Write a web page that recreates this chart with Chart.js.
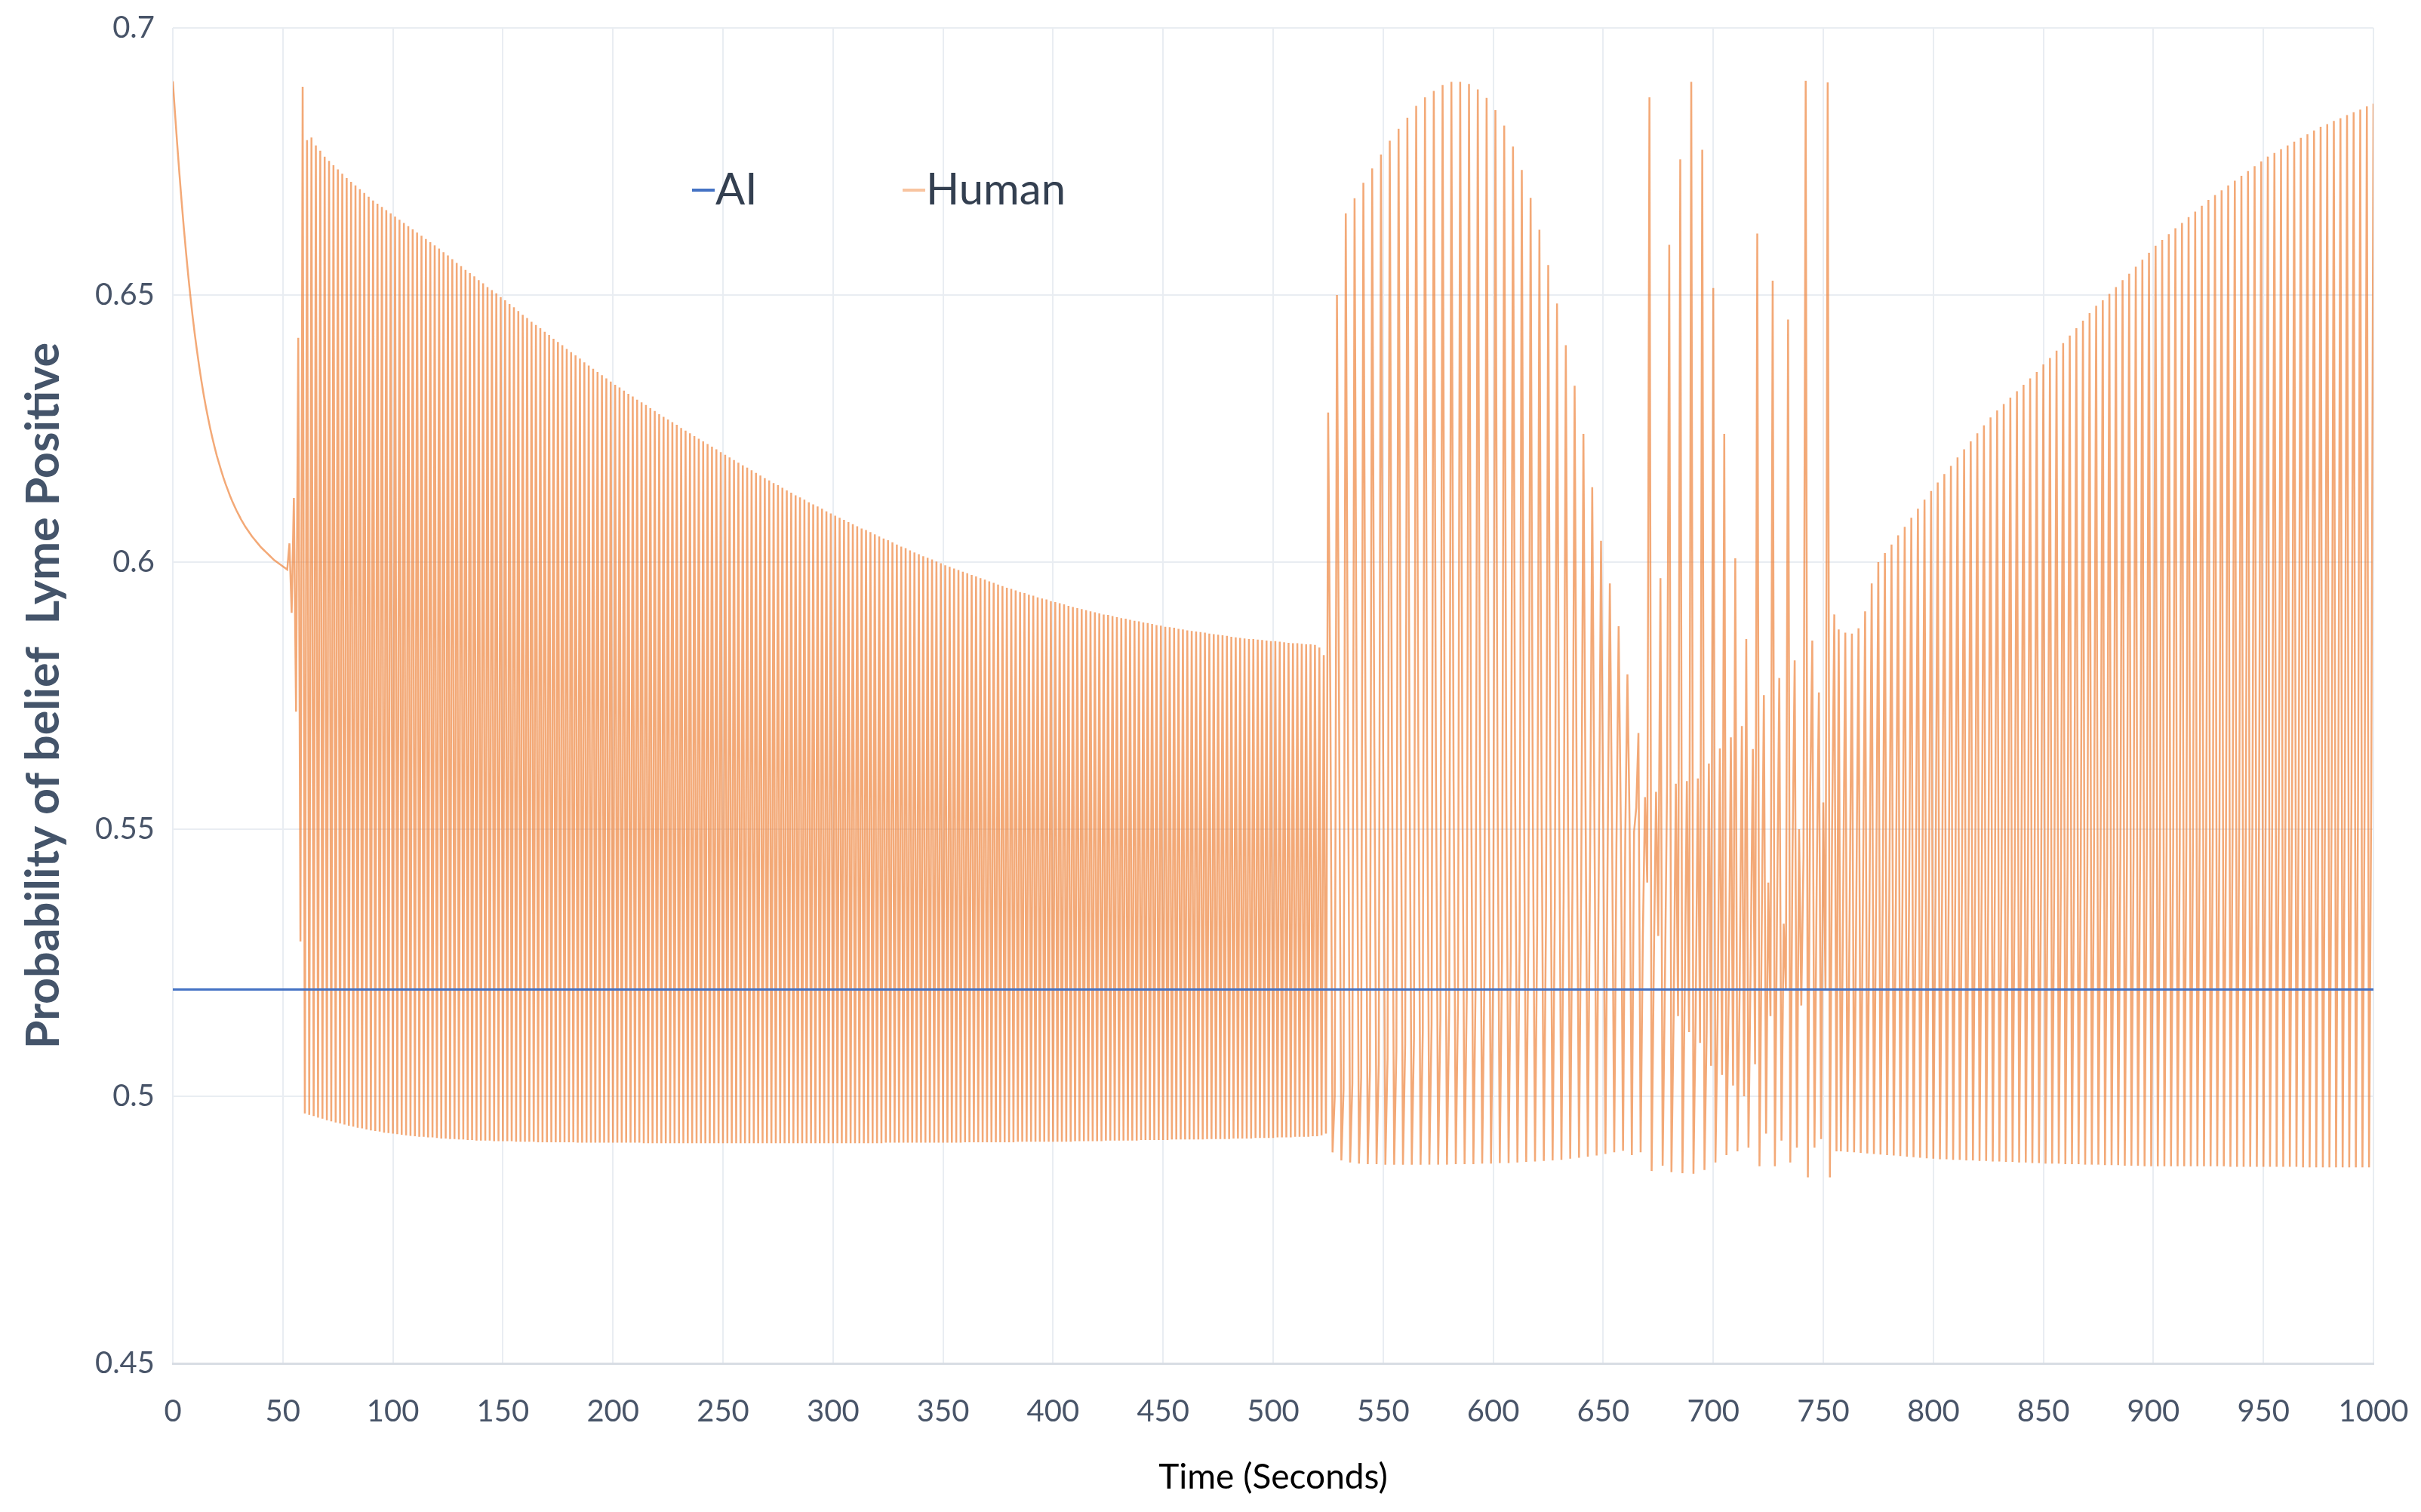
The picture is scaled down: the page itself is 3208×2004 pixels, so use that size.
<!DOCTYPE html>
<html>
<head>
<meta charset="utf-8">
<title>Probability of belief Lyme Positive</title>
<script src="https://cdn.jsdelivr.net/npm/chart.js@4.4.1/dist/chart.umd.min.js"></script>
<style>
    html, body { margin: 0; padding: 0; background: #ffffff; }
    canvas { display: block; }
</style>
</head>
<body>
<canvas id="beliefChart" width="3208" height="2004"></canvas>
<script>
// axis ticks
const xTicks = [0, 50, 100, 150, 200, 250, 300, 350, 400, 450, 500, 550, 600, 650, 700, 750, 800, 850, 900, 950, 1000];
const xTickLabels = ['0', '50', '100', '150', '200', '250', '300', '350', '400', '450', '500', '550', '600', '650', '700', '750', '800', '850', '900', '950', '1000'];
const yTicks = [0.45, 0.5, 0.55, 0.6, 0.65, 0.7];
const yTickLabels = ['0.45', '0.5', '0.55', '0.6', '0.65', '0.7'];

// AI series (flat)
const aiTimes = [0, 1000];
const aiValues = [0.52, 0.52];

// Human series, one sample per second in pieces
// t = 0..52
const humanDecay = [
    0.6900, 0.6840, 0.6782, 0.6727, 0.6675, 0.6626, 0.6580, 0.6537, 0.6497, 0.6460,
    0.6426, 0.6395, 0.6366, 0.6339, 0.6314, 0.6291, 0.6270, 0.6250, 0.6232, 0.6215,
    0.6199, 0.6185, 0.6171, 0.6158, 0.6146, 0.6135, 0.6124, 0.6114, 0.6105, 0.6096,
    0.6088, 0.6080, 0.6073, 0.6066, 0.6060, 0.6054, 0.6048, 0.6043, 0.6038, 0.6033,
    0.6028, 0.6024, 0.6020, 0.6016, 0.6012, 0.6008, 0.6004, 0.6001, 0.5998, 0.5995,
    0.5992, 0.5989, 0.5986
];
// t = 53..59
const humanOnset = [0.6035, 0.5905, 0.6120, 0.5720, 0.6420, 0.5290, 0.6890];
// t = 61, 63, ... 523 (peaks)
const humanHighA = [
    0.6790, 0.6795, 0.6780, 0.6770, 0.6759,
    0.6751, 0.6743, 0.6735, 0.6727, 0.6719,
    0.6712, 0.6705, 0.6698, 0.6691, 0.6684,
    0.6677, 0.6671, 0.6665, 0.6659, 0.6653,
    0.6647, 0.6641, 0.6635, 0.6629, 0.6623,
    0.6617, 0.6611, 0.6605, 0.6599, 0.6593,
    0.6587, 0.6580, 0.6574, 0.6567, 0.6560,
    0.6554, 0.6547, 0.6541, 0.6535, 0.6528,
    0.6522, 0.6515, 0.6509, 0.6503, 0.6496,
    0.6490, 0.6483, 0.6477, 0.6470, 0.6463,
    0.6457, 0.6450, 0.6444, 0.6438, 0.6431,
    0.6425, 0.6418, 0.6412, 0.6406, 0.6399,
    0.6393, 0.6387, 0.6381, 0.6374, 0.6368,
    0.6362, 0.6356, 0.6350, 0.6344, 0.6338,
    0.6332, 0.6327, 0.6321, 0.6315, 0.6310,
    0.6304, 0.6299, 0.6294, 0.6288, 0.6283,
    0.6277, 0.6272, 0.6267, 0.6262, 0.6257,
    0.6251, 0.6246, 0.6241, 0.6236, 0.6231,
    0.6226, 0.6221, 0.6216, 0.6211, 0.6206,
    0.6201, 0.6196, 0.6191, 0.6186, 0.6181,
    0.6177, 0.6172, 0.6167, 0.6162, 0.6157,
    0.6153, 0.6148, 0.6144, 0.6139, 0.6134,
    0.6130, 0.6125, 0.6121, 0.6117, 0.6112,
    0.6108, 0.6104, 0.6100, 0.6095, 0.6091,
    0.6087, 0.6083, 0.6079, 0.6075, 0.6071,
    0.6067, 0.6063, 0.6060, 0.6056, 0.6052,
    0.6048, 0.6044, 0.6041, 0.6037, 0.6033,
    0.6029, 0.6026, 0.6022, 0.6018, 0.6015,
    0.6011, 0.6008, 0.6005, 0.6001, 0.5998,
    0.5994, 0.5991, 0.5988, 0.5985, 0.5982,
    0.5979, 0.5976, 0.5973, 0.5970, 0.5967,
    0.5964, 0.5961, 0.5958, 0.5955, 0.5952,
    0.5950, 0.5947, 0.5944, 0.5942, 0.5939,
    0.5937, 0.5934, 0.5932, 0.5930, 0.5927,
    0.5925, 0.5923, 0.5921, 0.5918, 0.5916,
    0.5914, 0.5912, 0.5910, 0.5908, 0.5906,
    0.5904, 0.5902, 0.5901, 0.5899, 0.5897,
    0.5895, 0.5894, 0.5892, 0.5890, 0.5889,
    0.5887, 0.5886, 0.5884, 0.5882, 0.5881,
    0.5879, 0.5878, 0.5877, 0.5875, 0.5874,
    0.5872, 0.5871, 0.5870, 0.5869, 0.5868,
    0.5866, 0.5865, 0.5864, 0.5863, 0.5862,
    0.5860, 0.5859, 0.5858, 0.5857, 0.5856,
    0.5856, 0.5855, 0.5854, 0.5853, 0.5852,
    0.5852, 0.5851, 0.5850, 0.5849, 0.5848,
    0.5848, 0.5847, 0.5846, 0.5846, 0.5845,
    0.5840, 0.5826
];
// t = 60, 62, ... 524 (troughs)
const humanLowA = [
    0.4968, 0.4965, 0.4963, 0.4960, 0.4958,
    0.4955, 0.4953, 0.4951, 0.4949, 0.4947,
    0.4945, 0.4943, 0.4941, 0.4940, 0.4938,
    0.4936, 0.4935, 0.4934, 0.4932, 0.4931,
    0.4930, 0.4929, 0.4928, 0.4927, 0.4926,
    0.4925, 0.4924, 0.4924, 0.4923, 0.4923,
    0.4922, 0.4921, 0.4921, 0.4920, 0.4920,
    0.4919, 0.4919, 0.4918, 0.4918, 0.4917,
    0.4917, 0.4917, 0.4917, 0.4916, 0.4916,
    0.4916, 0.4916, 0.4916, 0.4915, 0.4915,
    0.4915, 0.4915, 0.4915, 0.4914, 0.4914,
    0.4914, 0.4914, 0.4914, 0.4914, 0.4914,
    0.4914, 0.4914, 0.4913, 0.4913, 0.4913,
    0.4913, 0.4913, 0.4913, 0.4913, 0.4913,
    0.4913, 0.4913, 0.4913, 0.4913, 0.4913,
    0.4913, 0.4913, 0.4912, 0.4912, 0.4912,
    0.4912, 0.4912, 0.4912, 0.4912, 0.4912,
    0.4912, 0.4912, 0.4912, 0.4912, 0.4912,
    0.4912, 0.4912, 0.4912, 0.4912, 0.4912,
    0.4912, 0.4912, 0.4912, 0.4912, 0.4912,
    0.4912, 0.4912, 0.4912, 0.4912, 0.4912,
    0.4912, 0.4912, 0.4912, 0.4912, 0.4912,
    0.4912, 0.4912, 0.4912, 0.4912, 0.4912,
    0.4912, 0.4912, 0.4912, 0.4912, 0.4912,
    0.4912, 0.4912, 0.4912, 0.4912, 0.4912,
    0.4912, 0.4912, 0.4912, 0.4912, 0.4912,
    0.4912, 0.4912, 0.4913, 0.4913, 0.4913,
    0.4913, 0.4913, 0.4913, 0.4913, 0.4913,
    0.4913, 0.4913, 0.4913, 0.4913, 0.4913,
    0.4913, 0.4913, 0.4913, 0.4913, 0.4913,
    0.4914, 0.4914, 0.4914, 0.4914, 0.4914,
    0.4914, 0.4914, 0.4914, 0.4914, 0.4914,
    0.4914, 0.4914, 0.4915, 0.4915, 0.4915,
    0.4915, 0.4915, 0.4915, 0.4915, 0.4915,
    0.4915, 0.4915, 0.4915, 0.4915, 0.4915,
    0.4916, 0.4916, 0.4916, 0.4916, 0.4916,
    0.4916, 0.4916, 0.4917, 0.4917, 0.4917,
    0.4917, 0.4917, 0.4917, 0.4917, 0.4917,
    0.4918, 0.4918, 0.4918, 0.4918, 0.4918,
    0.4918, 0.4918, 0.4919, 0.4919, 0.4919,
    0.4919, 0.4919, 0.4919, 0.4919, 0.4919,
    0.4920, 0.4920, 0.4920, 0.4920, 0.4920,
    0.4920, 0.4921, 0.4921, 0.4921, 0.4921,
    0.4921, 0.4922, 0.4922, 0.4922, 0.4922,
    0.4922, 0.4923, 0.4923, 0.4923, 0.4923,
    0.4924, 0.4924, 0.4924, 0.4924, 0.4925,
    0.4925, 0.4927, 0.4930
];
// t = 525..664, four samples per swing: spike top, inner top, spike bottom, inner bottom
const humanTopB = [
    0.6280, 0.6500, 0.6653, 0.6681, 0.6710, 0.6737, 0.6763, 0.6789, 0.6811, 0.6832,
    0.6854, 0.6870, 0.6882, 0.6893, 0.6899, 0.6899, 0.6895, 0.6885, 0.6869, 0.6846,
    0.6817, 0.6778, 0.6734, 0.6682, 0.6622, 0.6556, 0.6484, 0.6406, 0.6330, 0.6240,
    0.6140, 0.6040, 0.5960, 0.5880, 0.5790
];
const humanInnerTopB = [
    0.5740, 0.5685, 0.5672, 0.5665, 0.5658, 0.5651, 0.5644, 0.5637, 0.5630, 0.5623,
    0.5616, 0.5609, 0.5602, 0.5596, 0.5590, 0.5584, 0.5578, 0.5572, 0.5566, 0.5561,
    0.5556, 0.5551, 0.5546, 0.5542, 0.5538, 0.5534, 0.5530, 0.5526, 0.5522, 0.5519,
    0.5516, 0.5513, 0.5510, 0.5507, 0.5504
];
const humanLowB = [
    0.4895, 0.4880, 0.4876, 0.4874, 0.4873, 0.4873, 0.4872, 0.4872, 0.4872, 0.4872,
    0.4872, 0.4872, 0.4872, 0.4872, 0.4873, 0.4873, 0.4873, 0.4874, 0.4874, 0.4875,
    0.4875, 0.4876, 0.4877, 0.4878, 0.4879, 0.4880, 0.4881, 0.4883, 0.4885, 0.4887,
    0.4889, 0.4892, 0.4895, 0.4898, 0.4890
];
const humanInnerLowB = [
    0.5000, 0.5012, 0.5024, 0.5036, 0.5048, 0.5060, 0.5072, 0.5084, 0.5096, 0.5108,
    0.5120, 0.5133, 0.5146, 0.5160, 0.5174, 0.5189, 0.5204, 0.5220, 0.5236, 0.5252,
    0.5269, 0.5286, 0.5303, 0.5320, 0.5337, 0.5354, 0.5371, 0.5388, 0.5405, 0.5421,
    0.5437, 0.5452, 0.5467, 0.5481, 0.5495
];
// t = 665..756, irregular part
const humanChaos = [
    0.5540, 0.5680, 0.4895, 0.5300, 0.5560, 0.5400, 0.6870, 0.4860, 0.5250, 0.5570,
    0.5300, 0.5970, 0.4870, 0.5200, 0.5580, 0.6594, 0.4858, 0.5150, 0.5585, 0.5150,
    0.6754, 0.4856, 0.5180, 0.5590, 0.5120, 0.6899, 0.4855, 0.5150, 0.5595, 0.5100,
    0.6772, 0.4862, 0.5120, 0.5623, 0.5057, 0.6513, 0.4876, 0.5150, 0.5651, 0.5040,
    0.6240, 0.4890, 0.5180, 0.5672, 0.5020, 0.6007, 0.4897, 0.5200, 0.5693, 0.5000,
    0.5856, 0.4904, 0.5250, 0.5650, 0.5060, 0.6615, 0.4869, 0.5300, 0.5751, 0.4930,
    0.5400, 0.5150, 0.6527, 0.4869, 0.5350, 0.5783, 0.4917, 0.5323, 0.5200, 0.6454,
    0.4876, 0.5450, 0.5816, 0.4904, 0.5500, 0.5170, 0.5450, 0.6901, 0.4848, 0.5550,
    0.5853, 0.4904, 0.5400, 0.5756, 0.4920, 0.5550, 0.5200, 0.6898, 0.4848, 0.5500,
    0.5902, 0.4897
];
// t = 757..1000, three samples per swing: top, bottom, middle
const humanTopD = [
    0.5874, 0.5868, 0.5866, 0.5876, 0.5908, 0.5960, 0.6000, 0.6017, 0.6033, 0.6050,
    0.6066, 0.6083, 0.6100, 0.6117, 0.6133, 0.6149, 0.6165, 0.6180, 0.6196, 0.6211,
    0.6226, 0.6241, 0.6256, 0.6271, 0.6284, 0.6296, 0.6308, 0.6320, 0.6332, 0.6344,
    0.6356, 0.6370, 0.6382, 0.6396, 0.6410, 0.6424, 0.6438, 0.6452, 0.6466, 0.6480,
    0.6490, 0.6502, 0.6515, 0.6528, 0.6540, 0.6553, 0.6566, 0.6579, 0.6592, 0.6603,
    0.6614, 0.6625, 0.6635, 0.6646, 0.6656, 0.6667, 0.6678, 0.6687, 0.6696, 0.6705,
    0.6714, 0.6723, 0.6732, 0.6741, 0.6750, 0.6759, 0.6766, 0.6773, 0.6780, 0.6787,
    0.6794, 0.6801, 0.6808, 0.6815, 0.6820, 0.6826, 0.6831, 0.6837, 0.6842, 0.6847,
    0.6853, 0.6858
];
const humanLowD = [
    0.4897, 0.4896, 0.4895, 0.4894, 0.4893, 0.4892, 0.4891, 0.4890, 0.4889, 0.4888,
    0.4887, 0.4886, 0.4885, 0.4884, 0.4883, 0.4882, 0.4882, 0.4881, 0.4881, 0.4880,
    0.4880, 0.4879, 0.4879, 0.4878, 0.4878, 0.4877, 0.4877, 0.4876, 0.4876, 0.4875,
    0.4875, 0.4874, 0.4874, 0.4874, 0.4873, 0.4873, 0.4873, 0.4872, 0.4872, 0.4872,
    0.4871, 0.4871, 0.4871, 0.4870, 0.4870, 0.4870, 0.4869, 0.4869, 0.4869, 0.4869,
    0.4869, 0.4869, 0.4869, 0.4869, 0.4869, 0.4869, 0.4869, 0.4869, 0.4869, 0.4868,
    0.4868, 0.4868, 0.4868, 0.4868, 0.4868, 0.4868, 0.4868, 0.4868, 0.4868, 0.4868,
    0.4867, 0.4867, 0.4867, 0.4867, 0.4867, 0.4867, 0.4867, 0.4867, 0.4867, 0.4867,
    0.4867
];
const humanMidD = [
    0.5360, 0.5361, 0.5363, 0.5364, 0.5366, 0.5367, 0.5369, 0.5370, 0.5372, 0.5373,
    0.5375, 0.5376, 0.5378, 0.5379, 0.5381, 0.5383, 0.5385, 0.5388, 0.5390, 0.5393,
    0.5395, 0.5398, 0.5400, 0.5403, 0.5405, 0.5408, 0.5410, 0.5413, 0.5415, 0.5418,
    0.5420, 0.5423, 0.5425, 0.5428, 0.5430, 0.5433, 0.5435, 0.5438, 0.5440, 0.5443,
    0.5445, 0.5448, 0.5450, 0.5453, 0.5455, 0.5458, 0.5460, 0.5463, 0.5466, 0.5469,
    0.5472, 0.5475, 0.5478, 0.5481, 0.5484, 0.5487, 0.5490, 0.5493, 0.5496, 0.5499,
    0.5502, 0.5505, 0.5508, 0.5511, 0.5514, 0.5517, 0.5520, 0.5523, 0.5526, 0.5529,
    0.5532, 0.5535, 0.5538, 0.5541, 0.5544, 0.5547, 0.5550, 0.5553, 0.5556, 0.5559,
    0.5562
];

const seriesNames = ['AI', 'Human'];

function buildHumanPoints() {
    const points = [];
    humanDecay.forEach((v, i) => points.push({ x: i, y: v }));
    humanOnset.forEach((v, i) => points.push({ x: 53 + i, y: v }));
    for (let t = 60; t <= 524; t++) {
        const v = t % 2 === 0 ? humanLowA[(t - 60) / 2] : humanHighA[(t - 61) / 2];
        points.push({ x: t, y: v });
    }
    const cycleB = [humanTopB, humanInnerTopB, humanLowB, humanInnerLowB];
    for (let t = 525; t <= 664; t++) {
        const k = t - 525;
        points.push({ x: t, y: cycleB[k % 4][Math.floor(k / 4)] });
    }
    humanChaos.forEach((v, i) => points.push({ x: 665 + i, y: v }));
    const cycleD = [humanTopD, humanLowD, humanMidD];
    for (let t = 757; t <= 1000; t++) {
        const k = t - 757;
        points.push({ x: t, y: cycleD[k % 3][Math.floor(k / 3)] });
    }
    return points;
}

// legend drawn inside the plot, like the original
const insideLegend = {
    id: 'insideLegend',
    afterDraw(chart) {
        const ctx = chart.ctx;
        const items = [
            { x: 917, color: '#4472C4' },
            { x: 1196, color: '#F8C4A0' }
        ];
        ctx.save();
        ctx.font = '58px Lato';
        ctx.textBaseline = 'middle';
        ctx.fillStyle = '#333F50';
        items.forEach((item, i) => {
            ctx.strokeStyle = item.color;
            ctx.lineWidth = 4;
            ctx.beginPath();
            ctx.moveTo(item.x, 252);
            ctx.lineTo(item.x + 30, 252);
            ctx.stroke();
            ctx.fillText(seriesNames[i], item.x + 31, 252);
        });
        ctx.restore();
    }
};

function drawChart() {
    const tickColor = '#485468';
    const gridColor = '#E9EDF2';
    const ctx = document.getElementById('beliefChart').getContext('2d');
    new Chart(ctx, {
        type: 'line',
        data: {
            datasets: [{
                label: seriesNames[0],
                data: aiTimes.map((t, i) => ({ x: t, y: aiValues[i] })),
                borderColor: '#4472C4',
                borderWidth: 3,
                pointRadius: 0,
                order: 0
            }, {
                label: seriesNames[1],
                data: buildHumanPoints(),
                borderColor: 'rgba(237, 125, 49, 0.66)',
                borderWidth: 2.5,
                pointRadius: 0,
                order: 1
            }]
        },
        options: {
            responsive: false,
            animation: false,
            devicePixelRatio: 1,
            layout: { padding: { top: 37, right: 63, left: 0, bottom: 0 } },
            plugins: {
                legend: { display: false },
                tooltip: { enabled: false }
            },
            scales: {
                x: {
                    type: 'linear',
                    min: 0,
                    max: 1000,
                    afterBuildTicks: axis => { axis.ticks = xTicks.map(v => ({ value: v })); },
                    afterFit: axis => {
                        axis.height = 197;
                        axis.paddingLeft = 0;
                        axis.paddingRight = 0;
                    },
                    grid: { color: gridColor, lineWidth: 2, drawTicks: false },
                    border: { color: '#D8DDE4', width: 3 },
                    ticks: {
                        color: tickColor,
                        font: { family: 'Lato', size: 40 },
                        padding: 40,
                        maxRotation: 0,
                        autoSkip: false,
                        callback: (value, index) => xTickLabels[index]
                    },
                    title: {
                        display: true,
                        text: 'Time (Seconds)',
                        color: '#000000',
                        font: { family: 'Lato', size: 46 },
                        padding: { top: 0, bottom: 18 }
                    }
                },
                y: {
                    min: 0.45,
                    max: 0.7,
                    afterBuildTicks: axis => { axis.ticks = yTicks.map(v => ({ value: v })); },
                    afterFit: axis => {
                        axis.width = 229;
                        axis.paddingTop = 0;
                        axis.paddingBottom = 0;
                    },
                    grid: { color: gridColor, lineWidth: 2, drawTicks: false },
                    border: { display: false },
                    ticks: {
                        color: tickColor,
                        font: { family: 'Lato', size: 40 },
                        padding: 24,
                        callback: (value, index) => yTickLabels[index]
                    },
                    title: {
                        display: true,
                        text: 'Probability of belief  Lyme Positive',
                        color: '#44546A',
                        font: { family: 'Lato', size: 61, weight: 'bold' },
                        padding: { top: 22, bottom: 0 }
                    }
                }
            }
        },
        plugins: [insideLegend]
    });
}

document.addEventListener('DOMContentLoaded', function () {
    drawChart();
});
</script>
</body>
</html>
